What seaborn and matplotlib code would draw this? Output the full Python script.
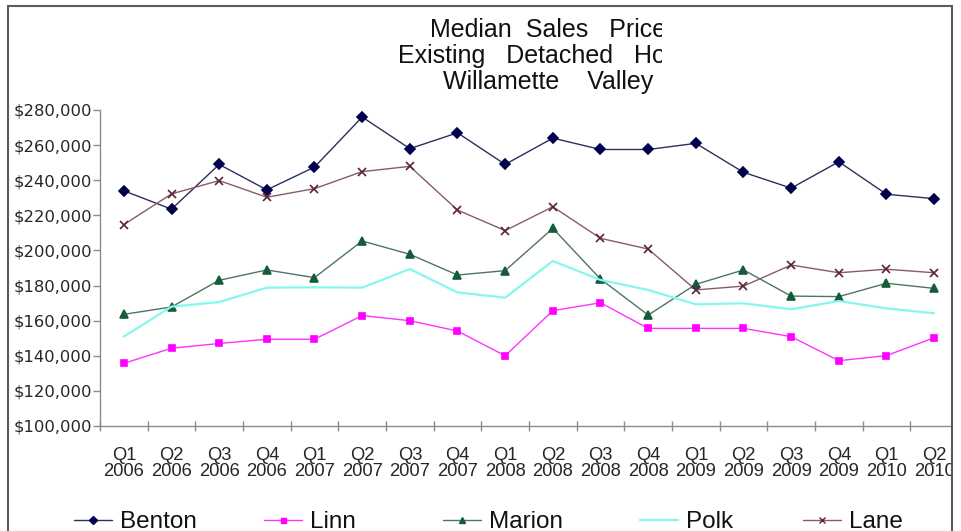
import numpy as np
import pandas as pd
import matplotlib
matplotlib.use("Agg")
import matplotlib.pyplot as plt
import seaborn as sns
from matplotlib.lines import Line2D
from matplotlib.patches import Rectangle
from matplotlib.ticker import FuncFormatter, FixedLocator
from matplotlib.transforms import Bbox

# Quarterly median sales prices of existing detached homes
quarters = ["Q1\n2006", "Q2\n2006", "Q3\n2006", "Q4\n2006",
            "Q1\n2007", "Q2\n2007", "Q3\n2007", "Q4\n2007",
            "Q1\n2008", "Q2\n2008", "Q3\n2008", "Q4\n2008",
            "Q1\n2009", "Q2\n2009", "Q3\n2009", "Q4\n2009",
            "Q1\n2010", "Q2\n2010"]

benton = [234000, 223500, 249000, 234500, 247500, 276000, 258000, 267000, 249000,
          264000, 257500, 257500, 261000, 244500, 235500, 250500, 232000, 229500]
linn = [135700, 144300, 147000, 149400, 149400, 162900, 160000, 154100, 140000,
        165700, 170200, 155600, 155600, 155600, 150900, 137200, 140100, 150300]
marion = [163600, 167800, 183000, 188900, 184500, 205400, 197800, 186000, 188500,
          212600, 183700, 163200, 180700, 188900, 174000, 173700, 181300, 178400]
polk = [150900, 168000, 170600, 178800, 179000, 178800, 189400, 176100, 173100,
        194000, 183200, 177500, 169300, 169900, 166500, 171200, 167000, 164200]
lane = [214700, 232200, 239800, 230300, 235200, 244900, 247900, 223000, 211300,
        224900, 206900, 200800, 177500, 179700, 191700, 187300, 189300, 187300]

counties = ["Benton", "Linn", "Marion", "Polk", "Lane"]
series = [benton, linn, marion, polk, lane]

yticks = list(range(100000, 280001, 20000))

title_lines = ["Median  Sales   Price  of", "Existing   Detached   Homes", "Willamette    Valley"]

df = pd.DataFrame({
    "County": np.repeat(counties, len(quarters)),
    "pos": np.tile(np.arange(len(quarters)), len(counties)),
    "Price": np.concatenate(series),
})

sns.set_style("white")
plt.rcParams["font.family"] = ["Liberation Sans", "DejaVu Sans"]

W, H = 962, 531
fig = plt.figure(figsize=(W / 100, H / 100), dpi=100)
fig.patch.set_facecolor("white")


def fx(px):
    return px / W


def fy(py):
    return 1 - py / H


ax = fig.add_axes([fx(100), fy(426), fx(958) - fx(100), fy(110) - fy(426)])
ax.set_facecolor("white")

styles = {
    "Benton": dict(line="#2e2e5e", marker="D", mfc="#00004d", mec="#00004d", ms=5.0, lw=1.0),
    "Linn": dict(line="#ff33ff", marker="s", mfc="#ff00ff", mec="#ff00ff", ms=4.5, lw=1.0),
    "Marion": dict(line="#4d7564", marker="^", mfc="#155c3a", mec="#155c3a", ms=6.0, lw=1.0),
    "Polk": dict(line="#85f7ef", marker=None, mfc="#85f7ef", mec="#85f7ef", ms=0, lw=1.6),
    "Lane": dict(line="#8a5a6c", marker="x", mfc="#5a2436", mec="#5a2436", ms=6.0, lw=1.0),
}

for county in counties:
    st = styles[county]
    sub = df[df["County"] == county]
    kw = dict(color=st["line"], linewidth=st["lw"], legend=False, ax=ax)
    if st["marker"] is not None:
        kw.update(marker=st["marker"], markersize=st["ms"],
                  markerfacecolor=st["mfc"], markeredgecolor=st["mec"],
                  markeredgewidth=1.2)
    sns.lineplot(data=sub, x="pos", y="Price", **kw)

ax.set_xlim(-0.5, len(quarters) - 0.5)
ax.set_ylim(yticks[0], yticks[-1])
ax.set_xlabel("")
ax.set_ylabel("")

for side in ["top", "right"]:
    ax.spines[side].set_visible(False)
for side in ["left", "bottom"]:
    ax.spines[side].set_color("#8c8c8c")
    ax.spines[side].set_linewidth(1.0)

ax.yaxis.set_major_locator(FixedLocator(yticks))
ax.yaxis.set_major_formatter(FuncFormatter(lambda v, p: "${:,.0f}".format(v)))
ax.tick_params(axis="y", which="major", direction="out", length=5, width=1,
               color="#8c8c8c", pad=0.8, labelsize=11.8, left=True)
for lab in ax.get_yticklabels():
    lab.set_fontfamily("DejaVu Sans")

ax.set_xticks(np.arange(len(quarters)))
ax.set_xticklabels(quarters, fontsize=13.2, linespacing=0.95)
ax.set_xticks(np.arange(len(quarters) + 1) - 0.5, minor=True)
ax.tick_params(axis="x", which="major", length=0, pad=15, bottom=True)
ax.tick_params(axis="x", which="minor", direction="inout", length=7, width=1,
               color="#8c8c8c", bottom=True)

# Title, cut by the chart area on the right
clip = Bbox([[0, 0], [662, H]])
title_x = [430, 398, 443]
title_base = [37, 63, 89]
for txt, x0, yb in zip(title_lines, title_x, title_base):
    t = fig.text(fx(x0), fy(yb), txt, ha="left", va="baseline", fontsize=18,
                 color="#111111")
    t.set_clip_box(clip)
    t.set_clip_on(True)

# Legend entries spaced evenly along the bottom
leg_x = [74, 264, 443, 640, 803]
for county, x0 in zip(counties, leg_x):
    st = styles[county]
    h = Line2D([], [], color=st["line"], linewidth=st["lw"],
               marker=st["marker"] if st["marker"] else None,
               markersize=st["ms"] * 0.8, markerfacecolor=st["mfc"],
               markeredgecolor=st["mec"])
    fig.legend([h], [county], loc="upper left",
               bbox_to_anchor=(fx(x0), fy(511)), bbox_transform=fig.transFigure,
               frameon=False, borderpad=0, borderaxespad=0, fontsize=17.5,
               handlelength=1.55, handletextpad=0.35, labelcolor="#111111")

# Outer frame of the chart, right side masking the overflow
fig.add_artist(Rectangle((fx(953), 0), 1 - fx(953), 1, transform=fig.transFigure,
                         facecolor="white", edgecolor="none", zorder=20))
frame_kw = dict(transform=fig.transFigure, color="#5a5a5a", linewidth=1.5, zorder=21)
fig.add_artist(Line2D([fx(8), fx(8)], [fy(6), 0], **frame_kw))
fig.add_artist(Line2D([fx(8), fx(952)], [fy(6), fy(6)], **frame_kw))
fig.add_artist(Line2D([fx(952), fx(952)], [fy(6), 0], **frame_kw))

fig.savefig("out.png", dpi=100, facecolor="white")
